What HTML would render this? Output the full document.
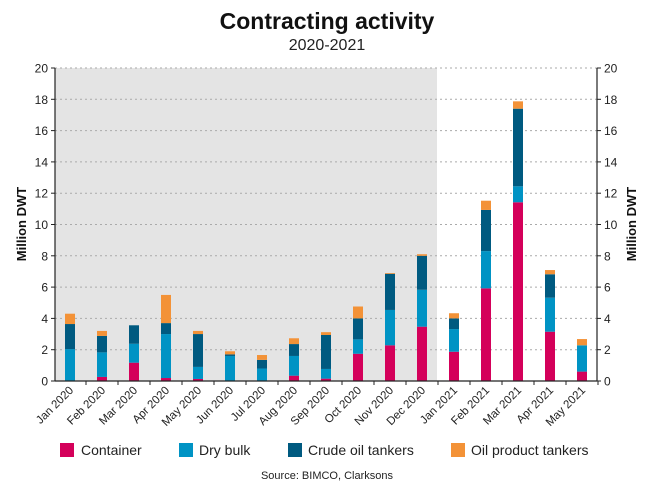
<!DOCTYPE html>
<html><head><meta charset="utf-8"><style>
body{margin:0;background:#fff;}
svg{display:block;font-family:"Liberation Sans",sans-serif;}
</style></head><body>
<svg id="s" width="655" height="487" viewBox="0 0 655 487" xmlns="http://www.w3.org/2000/svg">
<rect x="55" y="68" width="382" height="313" fill="#e4e4e4"/>
<text x="327" y="29" text-anchor="middle" font-size="23" font-weight="bold" fill="#111">Contracting activity</text>
<text x="327" y="50" text-anchor="middle" font-size="16" fill="#222">2020-2021</text>
<text transform="translate(26,224) rotate(-90)" text-anchor="middle" font-size="13" font-weight="bold" fill="#111">Million DWT</text>
<text transform="translate(636,224) rotate(-90)" text-anchor="middle" font-size="13" font-weight="bold" fill="#111">Million DWT</text>
<g id="g"></g>
<line x1="55" y1="68" x2="55" y2="381" stroke="#222" stroke-width="1.2"/>
<line x1="597" y1="68" x2="597" y2="381" stroke="#222" stroke-width="1.2"/>
<line x1="55" y1="381" x2="597" y2="381" stroke="#222" stroke-width="1.2"/>
<rect x="60" y="443" width="14" height="14" fill="#d4005a"/><text x="81" y="455" font-size="14" fill="#222">Container</text>
<rect x="179" y="443" width="14" height="14" fill="#0093c4"/><text x="199" y="455" font-size="14" fill="#222">Dry bulk</text>
<rect x="288" y="443" width="14" height="14" fill="#005a80"/><text x="308" y="455" font-size="14" fill="#222">Crude oil tankers</text>
<rect x="451" y="443" width="14" height="14" fill="#f39237"/><text x="471" y="455" font-size="14" fill="#222">Oil product tankers</text>
<text x="327" y="479" text-anchor="middle" font-size="11" fill="#222">Source: BIMCO, Clarksons</text>
</svg>
<script>
var g=document.getElementById('g'),h='';
function Y(v){return 381-v*15.65;}
for(var v=0;v<=20;v+=2){var y=Y(v);
 if(v>0)h+='<line x1="55" y1="'+y+'" x2="597" y2="'+y+'" stroke="#aaa" stroke-dasharray="2,3" stroke-width="1"/>';
 h+='<line x1="51" y1="'+y+'" x2="55" y2="'+y+'" stroke="#222"/><line x1="597" y1="'+y+'" x2="601" y2="'+y+'" stroke="#222"/>';
 h+='<text x="48" y="'+(y+4.5)+'" text-anchor="end" font-size="12" fill="#222">'+v+'</text>';
 h+='<text x="604" y="'+(y+4.5)+'" font-size="12" fill="#222">'+v+'</text>';}
var L=['Jan 2020','Feb 2020','Mar 2020','Apr 2020','May 2020','Jun 2020','Jul 2020','Aug 2020','Sep 2020','Oct 2020','Nov 2020','Dec 2020','Jan 2021','Feb 2021','Mar 2021','Apr 2021','May 2021'];
var D=[[0,2.04,3.64,4.3],[0.26,1.83,2.88,3.2],[1.17,2.38,3.56,3.56],[0.19,3.0,3.7,5.5],[0.13,0.9,3.0,3.2],[0,1.6,1.7,1.9],[0,0.8,1.35,1.66],[0.34,1.6,2.36,2.73],[0.15,0.77,2.94,3.12],[1.74,2.66,4.0,4.76],[2.28,4.54,6.85,6.9],[3.47,5.83,8.0,8.1],[1.87,3.32,4.0,4.33],[5.92,8.3,10.93,11.52],[11.42,12.44,17.4,17.87],[3.15,5.32,6.82,7.09],[0.6,2.28,2.28,2.68]];
var C=['#d4005a','#0093c4','#005a80','#f39237'];
for(var i=0;i<17;i++){var cx=70+32*i,p=0;
 for(var k=0;k<4;k++){var t=D[i][k];if(t>p)h+='<rect x="'+(cx-5)+'" y="'+Y(t)+'" width="10" height="'+(Y(p)-Y(t))+'" fill="'+C[k]+'"/>';p=Math.max(p,t);}
 var tx=86+32*i;h+='<line x1="'+tx+'" y1="381" x2="'+tx+'" y2="385" stroke="#222"/>';
 h+='<text transform="translate('+(cx+4)+',391) rotate(-45)" text-anchor="end" font-size="11.5" fill="#222">'+L[i]+'</text>';}
g.innerHTML=h;
</script>
</body></html>
